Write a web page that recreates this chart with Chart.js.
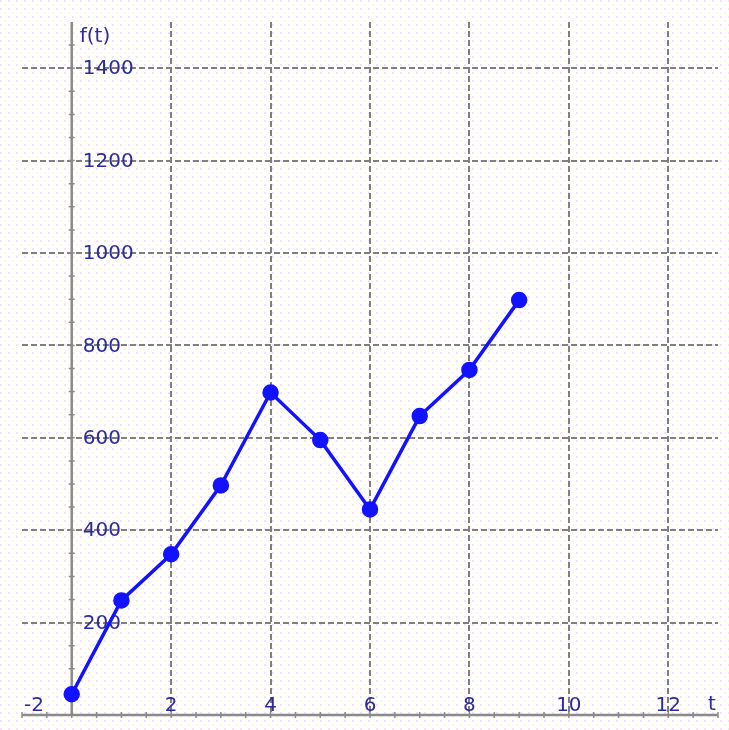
<!DOCTYPE html>
<html>
<head>
<meta charset="utf-8">
<script src="https://cdn.jsdelivr.net/npm/chart.js@4/dist/chart.umd.min.js"></script>
<style>
    html, body { margin: 0; padding: 0; background: #ffffff; }
    #wrap { width: 729px; height: 730px; position: relative; }
</style>
</head>
<body>
<div id="wrap"><canvas id="graph"></canvas></div>
<script>
// data
const tValues = [0, 1, 2, 3, 4, 5, 6, 7, 8, 9];
const fValues = [45, 248, 348, 497, 698, 595, 445, 647, 747, 898];
const xTickLabels = [-2, 2, 4, 6, 8, 10, 12];
const xGridValues = [2, 4, 6, 8, 10, 12];
const yTickLabels = [200, 400, 600, 800, 1000, 1200, 1400];

const labelColor = "#2b2b9c";
const axisColor = "#8a8a8a";
const gridColor = "#7f7f7f";
const lineColor = "#1212ff";

function makeDots() {
    const tile = document.createElement("canvas");
    tile.width = 8;
    tile.height = 8;
    const c = tile.getContext("2d");
    c.fillStyle = "#ffffff";
    c.fillRect(0, 0, 8, 8);
    c.fillStyle = "rgba(245, 190, 245, 0.5)";
    c.fillRect(0, 0, 2, 2);
    c.fillStyle = "rgba(250, 245, 170, 0.5)";
    c.fillRect(4, 4, 2, 2);
    return tile;
}

const backdrop = {
    id: "backdrop",
    beforeDraw(chart) {
        const ctx = chart.ctx;
        ctx.save();
        ctx.fillStyle = ctx.createPattern(makeDots(), "repeat");
        ctx.fillRect(0, 0, chart.width, chart.height);
        ctx.restore();
    }
};

// axes through the origin, minor ticks and labels
const axesPlugin = {
    id: "axesPlugin",
    beforeDatasetsDraw(chart) {
        const ctx = chart.ctx;
        const xs = chart.scales.x;
        const ys = chart.scales.y;
        const area = chart.chartArea;
        const x0 = xs.getPixelForValue(0);
        const y0 = ys.getPixelForValue(0);
        ctx.save();
        ctx.strokeStyle = axisColor;
        ctx.lineWidth = 2.5;
        ctx.beginPath();
        ctx.moveTo(x0, area.top);
        ctx.lineTo(x0, area.bottom);
        ctx.moveTo(area.left, y0);
        ctx.lineTo(area.right, y0);
        ctx.stroke();

        ctx.lineWidth = 1.5;
        ctx.beginPath();
        for (let v = 50; v < 1500; v += 50) {
            const py = ys.getPixelForValue(v);
            ctx.moveTo(x0 - 3, py);
            ctx.lineTo(x0 + 3, py);
        }
        for (let v = -1; v <= 13; v += 0.5) {
            const px = xs.getPixelForValue(v);
            ctx.moveTo(px, y0 - 3);
            ctx.lineTo(px, y0 + 3);
        }
        ctx.stroke();

        ctx.fillStyle = labelColor;
        ctx.font = "20px 'DejaVu Sans'";
        ctx.textBaseline = "middle";
        ctx.textAlign = "left";
        yTickLabels.forEach(v => {
            ctx.fillText(String(v), x0 + 11, ys.getPixelForValue(v) + 1);
        });
        ctx.textBaseline = "alphabetic";
        xTickLabels.forEach(v => {
            let px = xs.getPixelForValue(v);
            if (px < area.left + 14) {
                ctx.textAlign = "left";
                px = area.left + 2;
            } else {
                ctx.textAlign = "center";
            }
            ctx.fillText(String(v), px, y0 - 4);
        });
        ctx.textAlign = "center";
        ctx.fillText("t", area.right - 6, y0 - 5);
        ctx.textAlign = "left";
        ctx.fillText("f(t)", x0 + 8, area.top + 20);
        ctx.restore();
    }
};

document.addEventListener("DOMContentLoaded", () => {
    const graph = document.getElementById("graph");
    new Chart(graph, {
        type: "line",
        data: {
            datasets: [{
                data: tValues.map((t, i) => ({x: t, y: fValues[i]})),
                borderColor: lineColor,
                backgroundColor: lineColor,
                borderWidth: 3.5,
                pointRadius: 6.5,
                pointHoverRadius: 6.5,
                tension: 0
            }]
        },
        options: {
            responsive: true,
            maintainAspectRatio: false,
            animation: false,
            events: [],
            layout: {padding: {left: 22, top: 22, right: 11, bottom: 15}},
            plugins: {legend: {display: false}, tooltip: {enabled: false}},
            scales: {
                x: {
                    type: "linear",
                    min: -1,
                    max: 13,
                    afterBuildTicks: axis => { axis.ticks = xGridValues.map(v => ({value: v})); },
                    ticks: {display: false},
                    border: {display: false, dash: [6, 3]},
                    grid: {color: gridColor, lineWidth: 2, drawTicks: false}
                },
                y: {
                    type: "linear",
                    min: 0,
                    max: 1500,
                    afterBuildTicks: axis => { axis.ticks = yTickLabels.map(v => ({value: v})); },
                    ticks: {display: false},
                    border: {display: false, dash: [6, 3]},
                    grid: {color: gridColor, lineWidth: 2, drawTicks: false}
                }
            }
        },
        plugins: [backdrop, axesPlugin]
    });
});
</script>
</body>
</html>
